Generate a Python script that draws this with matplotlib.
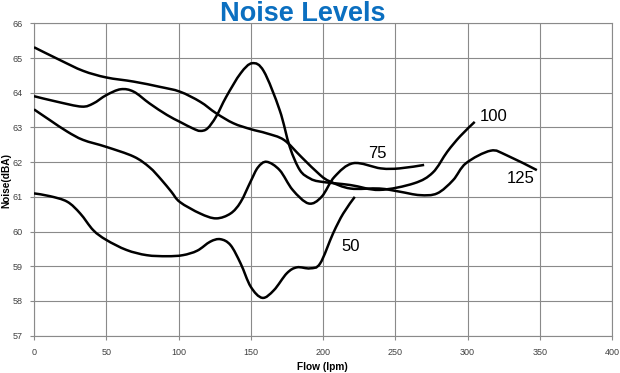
import matplotlib

matplotlib.use("Agg")
import matplotlib.pyplot as plt  # noqa: E402
import numpy as np  # noqa: E402
from matplotlib.patches import PathPatch  # noqa: E402
from matplotlib.path import Path  # noqa: E402

plt.rcParams["font.family"] = ["Liberation Sans", "DejaVu Sans"]

# values (smoothed Excel-style lines)
flow_50 = [0, 11, 23, 32, 41, 50, 64, 78, 92, 103, 113, 122, 129, 136, 143,
           150, 158, 166, 175, 182, 191, 198, 207, 214, 222]
noise_50 = [61.1, 61.02, 60.86, 60.52, 60.04, 59.76, 59.47, 59.32, 59.29,
            59.32, 59.45, 59.71, 59.78, 59.61, 59.08, 58.41, 58.09, 58.31,
            58.8, 58.97, 58.94, 59.08, 59.95, 60.52, 61.0]

flow_75 = [0, 11, 23, 34, 50, 69, 80, 88, 95, 101, 115, 126, 136, 143, 150,
           155, 161, 170, 179, 190, 199, 208, 221, 240, 253, 270]
noise_75 = [63.52, 63.21, 62.88, 62.64, 62.44, 62.16, 61.85, 61.5, 61.15,
            60.85, 60.52, 60.38, 60.52, 60.85, 61.45, 61.85, 62.01, 61.77,
            61.2, 60.81, 61.0, 61.58, 61.97, 61.82, 61.82, 61.92]

flow_100 = [0, 16, 33, 41, 50, 60, 69, 80, 92, 101, 110, 115, 120, 126, 133,
            143, 151, 159, 170, 177, 184, 191, 198, 219, 239, 263, 276, 286,
            295, 305]
noise_100 = [63.9, 63.74, 63.6, 63.69, 63.93, 64.1, 64.03, 63.69, 63.36,
             63.16, 62.97, 62.9, 62.97, 63.31, 63.88, 64.56, 64.85, 64.62,
             63.5, 62.44, 61.77, 61.53, 61.44, 61.34, 61.2, 61.39, 61.7,
             62.3, 62.75, 63.16]

flow_125 = [0, 18, 34, 50, 69, 87, 101, 115, 126, 138, 150, 161, 173, 185,
            198, 205, 219, 239, 253, 267, 279, 290, 299, 316, 327, 348]
noise_125 = [65.31, 64.94, 64.63, 64.44, 64.32, 64.17, 64.03, 63.74, 63.41,
             63.12, 62.95, 62.83, 62.64, 62.15, 61.63, 61.44, 61.24, 61.24,
             61.15, 61.05, 61.1, 61.48, 61.97, 62.33, 62.2, 61.77]

series = {"50": (flow_50, noise_50), "75": (flow_75, noise_75),
          "100": (flow_100, noise_100), "125": (flow_125, noise_125)}

# label anchor (left edge, vertical centre) for each curve
label_pos = {"50": (213, 59.56), "75": (231, 62.26),
             "100": (308.5, 63.31), "125": (327, 61.53)}

x_ticks = [0, 50, 100, 150, 200, 250, 300, 350, 400]
y_ticks = [57, 58, 59, 60, 61, 62, 63, 64, 65, 66]


def smooth_path(xs, ys):
    """Catmull-Rom through the points, drawn as cubic Bezier segments."""
    p = np.column_stack([xs, ys]).astype(float)
    ext = np.vstack([p[0], p, p[-1]])
    verts, codes = [p[0]], [Path.MOVETO]
    for i in range(len(p) - 1):
        p0, p1, p2, p3 = ext[i], ext[i + 1], ext[i + 2], ext[i + 3]
        verts += [p1 + (p2 - p0) / 6, p2 - (p3 - p1) / 6, p2]
        codes += [Path.CURVE4] * 3
    return Path(verts, codes)


fig = plt.figure(figsize=(6.2, 3.73), dpi=100)
ax = fig.add_axes([34 / 620, 1 - 335.7 / 373, 578 / 620, 312.4 / 373])

for name, (xs, ys) in series.items():
    ax.add_patch(PathPatch(smooth_path(xs, ys), facecolor="none",
                           edgecolor="black", lw=1.8, capstyle="butt",
                           zorder=3))
    lx, ly = label_pos[name]
    ax.text(lx, ly, name, fontsize=12, ha="left", va="center", zorder=4)

ax.set_xlim(0, 400)
ax.set_ylim(57, 66)
ax.set_xticks(x_ticks)
ax.set_yticks(y_ticks)
ax.grid(True, color="#8a8a8a", lw=0.8)
ax.set_axisbelow(True)
for sp in ax.spines.values():
    sp.set_color("#8a8a8a")
    sp.set_linewidth(0.8)
ax.tick_params(length=3, width=0.8, color="#8a8a8a", labelsize=6.5,
               labelcolor="#404040", pad=5)
ax.tick_params(axis="x", pad=6)

fig.text(322 / 620, 1 - 367 / 373, "Flow (lpm)", fontsize=7.3,
         fontweight="bold", ha="center", va="center")
fig.text(6 / 620, 1 - 180 / 373, "Noise(dBA)", fontsize=7.3,
         fontweight="bold", rotation=90, ha="center", va="center")
fig.text(303 / 620, 1 - 21 / 373, "Noise Levels", fontsize=19.5,
         fontweight="bold", color="#0b6fc0", ha="center", va="baseline")

fig.savefig("out.png", dpi=100)
